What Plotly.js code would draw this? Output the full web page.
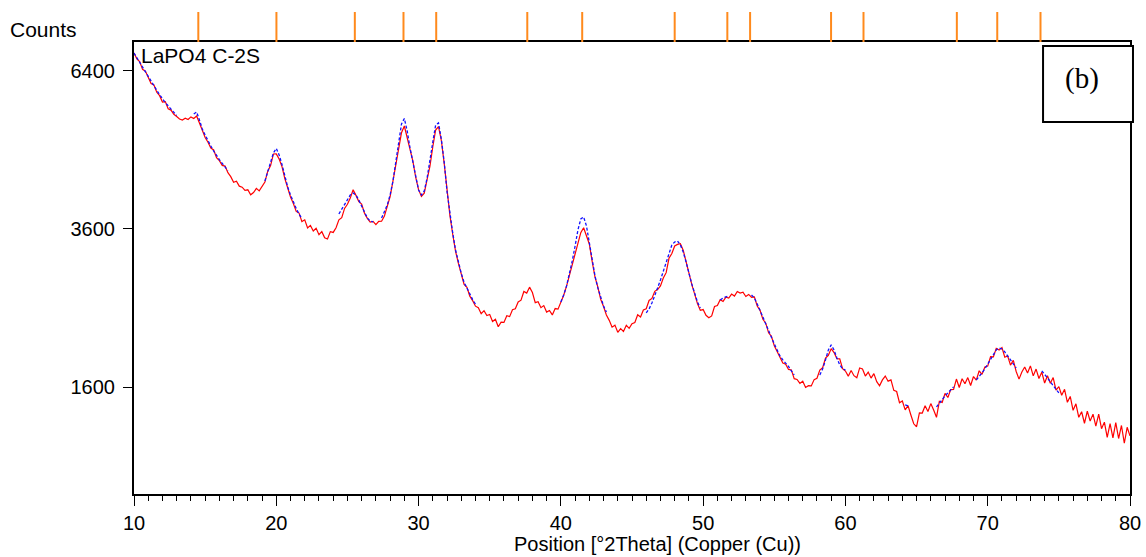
<!DOCTYPE html>
<html>
<head>
<meta charset="utf-8">
<script src="https://cdn.plot.ly/plotly-3.0.1.min.js"></script>
<style>html,body{margin:0;padding:0;background:#fff}#chart{width:1146px;height:557px}</style>
</head>
<body>
<div id="chart"></div>
<script>
// Observed pattern (red), position in degrees 2Theta
const obsTwoTheta = [
10.0,10.2,10.4,10.6,10.8,11.0,11.2,11.4,11.6,11.8,
12.0,12.2,12.4,12.6,12.8,13.0,13.2,13.4,13.6,13.8,
14.0,14.2,14.4,14.6,14.8,15.0,15.2,15.4,15.6,15.8,
16.0,16.2,16.4,16.6,16.8,17.0,17.2,17.4,17.6,17.8,
18.0,18.2,18.4,18.6,18.8,19.0,19.2,19.4,19.6,19.8,
20.0,20.2,20.4,20.6,20.8,21.0,21.2,21.4,21.6,21.8,
22.0,22.2,22.4,22.6,22.8,23.0,23.2,23.4,23.6,23.8,
24.0,24.2,24.4,24.6,24.8,25.0,25.2,25.4,25.6,25.8,
26.0,26.2,26.4,26.6,26.8,27.0,27.2,27.4,27.6,27.8,
28.0,28.2,28.4,28.6,28.8,29.0,29.2,29.4,29.6,29.8,
30.0,30.2,30.4,30.6,30.8,31.0,31.2,31.4,31.6,31.8,
32.0,32.2,32.4,32.6,32.8,33.0,33.2,33.4,33.6,33.8,
34.0,34.2,34.4,34.6,34.8,35.0,35.2,35.4,35.6,35.8,
36.0,36.2,36.4,36.6,36.8,37.0,37.2,37.4,37.6,37.8,
38.0,38.2,38.4,38.6,38.8,39.0,39.2,39.4,39.6,39.8,
40.0,40.2,40.4,40.6,40.8,41.0,41.2,41.4,41.6,41.8,
42.0,42.2,42.4,42.6,42.8,43.0,43.2,43.4,43.6,43.8,
44.0,44.2,44.4,44.6,44.8,45.0,45.2,45.4,45.6,45.8,
46.0,46.2,46.4,46.6,46.8,47.0,47.2,47.4,47.6,47.8,
48.0,48.2,48.4,48.6,48.8,49.0,49.2,49.4,49.6,49.8,
50.0,50.2,50.4,50.6,50.8,51.0,51.2,51.4,51.6,51.8,
52.0,52.2,52.4,52.6,52.8,53.0,53.2,53.4,53.6,53.8,
54.0,54.2,54.4,54.6,54.8,55.0,55.2,55.4,55.6,55.8,
56.0,56.2,56.4,56.6,56.8,57.0,57.2,57.4,57.6,57.8,
58.0,58.2,58.4,58.6,58.8,59.0,59.2,59.4,59.6,59.8,
60.0,60.2,60.4,60.6,60.8,61.0,61.2,61.4,61.6,61.8,
62.0,62.2,62.4,62.6,62.8,63.0,63.2,63.4,63.6,63.8,
64.0,64.2,64.4,64.6,64.8,65.0,65.2,65.4,65.6,65.8,
66.0,66.2,66.4,66.6,66.8,67.0,67.2,67.4,67.6,67.8,
68.0,68.2,68.4,68.6,68.8,69.0,69.2,69.4,69.6,69.8,
70.0,70.2,70.4,70.6,70.8,71.0,71.2,71.4,71.6,71.8,
72.0,72.2,72.4,72.6,72.8,73.0,73.2,73.4,73.6,73.8,
74.0,74.2,74.4,74.6,74.8,75.0,75.2,75.4,75.6,75.8,
76.0,76.2,76.4,76.6,76.8,77.0,77.2,77.4,77.6,77.8,
78.0,78.2,78.4,78.6,78.8,79.0,79.2,79.4,79.6,79.8,
80.0];
const obsCounts = [
6759,6638,6581,6424,6388,6251,6140,6112,5968,5902,
5779,5788,5651,5626,5547,5506,5459,5440,5472,5449,
5498,5468,5515,5385,5246,5119,5035,4930,4896,4760,
4709,4628,4616,4503,4436,4342,4360,4278,4261,4208,
4218,4137,4173,4241,4200,4278,4347,4530,4625,4826,
4828,4737,4606,4405,4243,4101,3995,3871,3845,3713,
3740,3615,3655,3571,3611,3514,3560,3469,3450,3560,
3548,3618,3739,3774,3918,3984,4083,4218,4127,4027,
3987,3842,3762,3705,3716,3666,3717,3719,3799,3942,
4107,4362,4632,4948,5206,5329,5110,4907,4700,4422,
4220,4109,4163,4392,4613,4953,5255,5316,5065,4663,
4173,3813,3521,3269,3097,2946,2810,2771,2654,2597,
2526,2506,2432,2469,2409,2421,2336,2363,2271,2327,
2324,2406,2395,2481,2492,2580,2602,2716,2694,2773,
2702,2571,2583,2507,2533,2452,2472,2416,2496,2488,
2575,2667,2787,2933,3080,3236,3396,3544,3619,3489,
3377,3126,2907,2773,2615,2522,2415,2349,2267,2291,
2205,2250,2216,2289,2252,2309,2323,2418,2391,2477,
2493,2599,2626,2718,2741,2790,2895,2969,3170,3238,
3347,3371,3381,3285,3114,2937,2810,2685,2559,2474,
2483,2411,2381,2404,2521,2535,2609,2586,2640,2630,
2682,2656,2716,2695,2706,2650,2677,2640,2646,2528,
2473,2363,2315,2199,2157,2048,1984,1934,1855,1844,
1787,1782,1690,1682,1641,1664,1600,1618,1615,1680,
1694,1780,1805,1911,1941,2016,1972,1903,1901,1796,
1770,1716,1776,1721,1699,1803,1792,1717,1759,1696,
1743,1659,1617,1677,1717,1664,1677,1571,1559,1449,
1466,1382,1422,1334,1254,1228,1353,1352,1421,1366,
1441,1380,1313,1463,1453,1541,1500,1579,1581,1686,
1600,1689,1637,1701,1620,1712,1674,1773,1735,1813,
1823,1927,1924,2019,1999,2027,1920,1934,1833,1885,
1765,1685,1759,1813,1749,1825,1719,1791,1692,1758,
1645,1720,1643,1701,1574,1608,1522,1581,1453,1510,
1378,1439,1313,1364,1259,1369,1279,1342,1234,1341,
1211,1269,1135,1255,1131,1264,1126,1239,1086,1223,
1148];

// Calculated profile (blue, dashed), shown only in fitted ranges; null = gap
const calcTwoTheta = [
10.0,10.2,10.4,10.6,10.8,11.0,11.2,11.4,11.6,11.8,12.0,12.2,12.4,12.6,12.8,13.0,null,
14.2,14.4,14.6,14.8,15.0,15.2,15.4,15.6,15.8,16.0,16.2,16.4,16.6,null,
19.2,19.4,19.6,19.8,20.0,20.2,20.4,20.6,20.8,21.0,21.2,21.4,21.6,21.8,null,
24.4,24.6,24.8,25.0,25.2,25.4,25.6,25.8,26.0,26.2,26.4,26.6,26.8,null,
27.4,27.6,27.8,28.0,28.2,28.4,28.6,28.8,29.0,29.2,29.4,29.6,29.8,30.0,30.2,30.4,30.6,30.8,31.0,31.2,31.4,31.6,31.8,32.0,32.2,32.4,32.6,32.8,33.0,33.2,33.4,33.6,33.8,34.0,null,
40.0,40.2,40.4,40.6,40.8,41.0,41.2,41.4,41.6,41.8,42.0,42.2,42.4,42.6,42.8,43.0,43.2,null,
46.0,46.2,46.4,46.6,46.8,47.0,47.2,47.4,47.6,47.8,48.0,48.2,48.4,48.6,48.8,49.0,49.2,49.4,49.6,49.8,null,
51.2,51.4,51.6,51.8,null,
53.4,53.6,53.8,54.0,54.2,54.4,54.6,54.8,55.0,55.2,55.4,55.6,55.8,56.0,56.2,56.4,null,
58.2,58.4,58.6,58.8,59.0,59.2,59.4,59.6,59.8,60.0,null,
64.2,64.4,null,
66.4,66.6,66.8,67.0,67.2,67.4,67.6,null,
69.2,69.4,69.6,69.8,70.0,70.2,70.4,70.6,70.8,71.0,71.2,71.4,71.6,71.8,72.0,null,
73.8,74.0,74.2,74.4,74.6,74.8,75.0];
const calcCounts = [
6759,6659,6560,6465,6368,6271,6179,6093,6006,5921,5836,5769,5708,5645,5585,5525,null,
5553,5590,5440,5274,5164,5056,4967,4878,4794,4726,4663,4599,4537,null,
4363,4532,4687,4844,4923,4808,4644,4448,4264,4133,4011,3918,3829,3759,null,
3831,3909,3988,4068,4133,4166,4133,4052,3957,3862,3768,3722,3707,null,
3768,3862,3972,4133,4363,4687,5021,5366,5468,5237,4932,4669,4414,4215,4133,4199,4414,4687,5038,5348,5385,5092,4687,4189,3831,3540,3289,3111,2959,2837,2757,2680,2610,2552,null,
2580,2670,2789,2951,3132,3347,3585,3753,3784,3646,3391,3118,2924,2763,2631,2529,2453,null,
2441,2490,2567,2657,2763,2869,2992,3118,3260,3362,3406,3420,3362,3260,3118,2951,2816,2697,2580,2503,null,
2605,2631,2644,2657,null,
2670,2631,2553,2478,2391,2306,2221,2150,2069,2001,1934,1890,1858,1820,1771,1729,null,
1729,1793,1890,2001,2058,2001,1912,1836,1793,1782,null,
1428,1419,null,
1409,1447,1486,1516,1545,1575,1606,null,
1677,1709,1750,1793,1847,1901,1957,2001,2024,2012,1979,1934,1890,1847,1804,null,
1772,1740,1698,1657,1616,1575,1545];

// Reference pattern peak positions (orange sticks above the plot)
const refPeakPositions = [14.52,20.01,25.52,28.94,31.24,37.64,41.50,48.00,51.70,53.30,58.99,61.27,67.83,70.67,73.71];

const xTickLabels = ['10','20','30','40','50','60','70','80'];
const yTickCounts = [1600,3600,6400];
const yLabel = 'Counts';
const xLabel = 'Position [°2Theta] (Copper (Cu))';
const sampleLabel = 'LaPO4 C-2S';
const panelLabel = '(b)';

// square-root intensity scale
const sq = v => (v === null ? null : Math.sqrt(v));

const stickX = [], stickY = [];
refPeakPositions.forEach(p => { stickX.push(p, p, null); stickY.push(0, 1, null); });

const font = 'Liberation Sans, Arial, sans-serif';
const mainTop = 0.93776;

const traces = [
  {x: obsTwoTheta, y: obsCounts.map(sq), type: 'scatter', mode: 'lines',
   line: {color: '#FF0000', width: 1.2}, hoverinfo: 'skip', xaxis: 'x', yaxis: 'y'},
  {x: calcTwoTheta, y: calcCounts.map(sq), type: 'scatter', mode: 'lines', connectgaps: false,
   line: {color: '#1010FF', width: 1.3, dash: '3px,2px'}, hoverinfo: 'skip', xaxis: 'x', yaxis: 'y'},
  {x: stickX, y: stickY, type: 'scatter', mode: 'lines', connectgaps: false,
   line: {color: '#FF8A1C', width: 2}, hoverinfo: 'skip', xaxis: 'x', yaxis: 'y2'}
];

const layout = {
  width: 1146, height: 557,
  margin: {l: 134, r: 16, t: 12, b: 63, pad: 0},
  paper_bgcolor: '#ffffff', plot_bgcolor: '#ffffff',
  showlegend: false,
  xaxis: {
    range: [10, 80], anchor: 'y',
    tickmode: 'array', tickvals: xTickLabels.map(Number), ticktext: xTickLabels,
    ticks: 'outside', ticklen: 10, tickwidth: 1, tickcolor: '#000',
    minor: {tickmode: 'linear', tick0: 10, dtick: 1, ticks: 'outside', ticklen: 5, tickwidth: 1, tickcolor: '#000'},
    showline: true, linewidth: 2, linecolor: '#000', mirror: true,
    showgrid: false, zeroline: false,
    tickfont: {family: font, size: 20, color: '#000'}
  },
  yaxis: {
    domain: [0, mainTop], anchor: 'x',
    range: [Math.sqrt(705), Math.sqrt(6989)],
    tickmode: 'array', tickvals: yTickCounts.map(Math.sqrt), ticktext: yTickCounts.map(String),
    ticks: 'outside', ticklen: 9, tickwidth: 1, tickcolor: '#000', ticklabelstandoff: 4,
    showline: true, linewidth: 2, linecolor: '#000', mirror: true,
    showgrid: false, zeroline: false,
    tickfont: {family: font, size: 20, color: '#000'}
  },
  yaxis2: {domain: [mainTop, 1], range: [0, 1], anchor: 'x', visible: false, showgrid: false, zeroline: false},
  shapes: [
    {type: 'rect', xref: 'paper', yref: 'paper', x0: 0.9127, x1: 1.003, y0: 0.7718, y1: 0.9295,
     line: {color: '#000', width: 2}, fillcolor: '#ffffff', layer: 'above'}
  ],
  annotations: [
    {text: yLabel, xref: 'paper', yref: 'paper', x: -0.1265, y: 0.9627, xanchor: 'left', yanchor: 'middle',
     showarrow: false, font: {family: font, size: 21, color: '#000'}},
    {text: sampleLabel, xref: 'paper', yref: 'paper', x: 0.005, y: 0.9098, xanchor: 'left', yanchor: 'middle',
     showarrow: false, font: {family: font, size: 21, color: '#000'}},
    {text: xLabel, xref: 'paper', yref: 'paper', x: 0.526, y: -0.1286, xanchor: 'center', yanchor: 'bottom',
     borderpad: 0, showarrow: false, font: {family: font, size: 20, color: '#000'}},
    {text: panelLabel, xref: 'paper', yref: 'paper', x: 0.9518, y: 0.861, xanchor: 'center', yanchor: 'middle',
     showarrow: false, font: {family: 'Liberation Serif, Times New Roman, serif', size: 29, color: '#000'}}
  ]
};

Plotly.newPlot('chart', traces, layout, {staticPlot: true, displayModeBar: false});
</script>
</body>
</html>
